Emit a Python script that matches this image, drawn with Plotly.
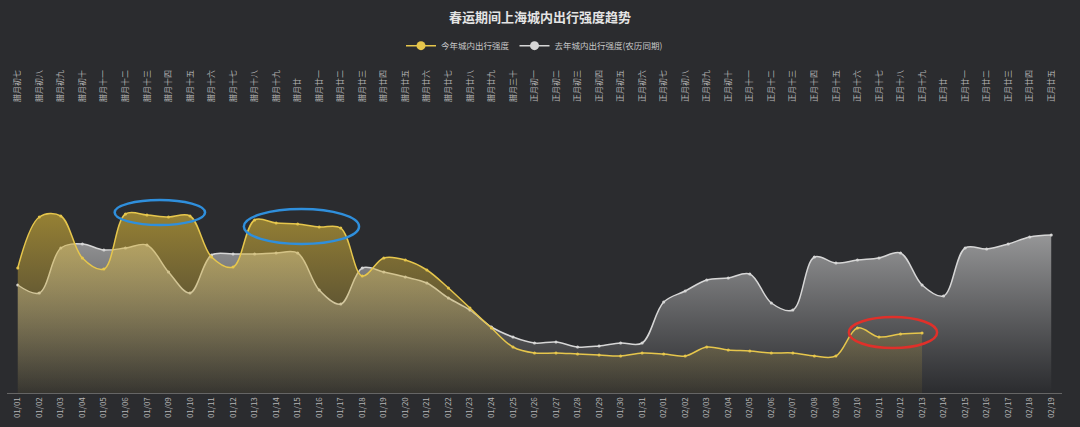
import plotly.graph_objects as go

# ---------------- data ----------------
dates = (["01/%02d" % d for d in [1, 2, 3, 4, 5, 6, 7, 9, 10, 11, 12, 13, 14, 15, 16, 17, 18, 19, 20,
                                  21, 22, 23, 24, 25, 26, 27, 28, 29, 30, 31]]
         + ["02/%02d" % d for d in range(1, 20)])

lunar = ["腊月初七", "腊月初八", "腊月初九", "腊月初十", "腊月十一", "腊月十二", "腊月十三", "腊月十四",
         "腊月十五", "腊月十六", "腊月十七", "腊月十八", "腊月十九", "腊月廿", "腊月廿一", "腊月廿二",
         "腊月廿三", "腊月廿四", "腊月廿五", "腊月廿六", "腊月廿七", "腊月廿八", "腊月廿九", "腊月三十",
         "正月初一", "正月初二", "正月初三", "正月初四", "正月初五", "正月初六", "正月初七", "正月初八",
         "正月初九", "正月初十", "正月十一", "正月十二", "正月十三", "正月十四", "正月十五", "正月十六",
         "正月十七", "正月十八", "正月十九", "正月廿", "正月廿一", "正月廿二", "正月廿三", "正月廿四",
         "正月廿五"]

this_year = [125, 176, 177, 135, 124, 179, 178, 176, 177, 136, 126, 173, 170, 169, 166, 165, 117, 135,
             133, 123, 105, 85, 65, 46, 40, 40, 39, 38, 37, 40, 39, 37, 46, 43, 42, 40, 40, 37, 37, 65,
             56, 59, 60]

last_year = [108, 100, 145, 149, 143, 145, 148, 121, 100, 138, 139, 139, 140, 140, 103, 89, 125, 121,
             116, 110, 95, 83, 66, 56, 50, 51, 46, 47, 50, 50, 91, 102, 113, 115, 119, 90, 83, 136, 130,
             133, 135, 140, 108, 97, 145, 144, 149, 156, 158]

name_this = "今年城内出行强度"
name_last = "去年城内出行强度(农历同期)"
title = "春运期间上海城内出行强度趋势"

# ---------------- style ----------------
BG = "#2b2c2f"
YELLOW = "#e6c64c"
GRAY = "#d6d6d6"
FONT = "Noto Sans CJK SC"

fig = go.Figure()

fig.add_trace(go.Scatter(
    x=dates, y=last_year, name=name_last, mode="lines+markers", showlegend=False,
    line=dict(color=GRAY, width=1.5, shape="spline", smoothing=1.0),
    marker=dict(color=GRAY, size=3),
    fill="tozeroy",
    fillgradient=dict(type="vertical",
                      colorscale=[[0, "rgba(200,200,200,0.0)"], [1, "rgba(215,215,215,0.62)"]],
                      start=0, stop=max(last_year)),
    hoverinfo="skip",
))

fig.add_trace(go.Scatter(
    x=dates[:len(this_year)], y=this_year, name=name_this, mode="lines+markers", showlegend=False,
    line=dict(color=YELLOW, width=1.5, shape="spline", smoothing=1.0),
    marker=dict(color=YELLOW, size=3),
    fill="tozeroy",
    fillgradient=dict(type="vertical",
                      colorscale=[[0, "rgba(190,160,60,0.08)"], [1, "rgba(215,180,55,0.62)"]],
                      start=0, stop=max(this_year)),
    hoverinfo="skip",
))

# legend entries (line + circle symbol, as in the original legend)
for nm, col in [(name_this, YELLOW), (name_last, GRAY)]:
    fig.add_trace(go.Scatter(
        x=[None], y=[None], name=nm, mode="lines+markers",
        line=dict(color=col, width=1.5), marker=dict(color=col, size=9),
        hoverinfo="skip",
    ))

# invisible trace to drive the top (lunar) axis
fig.add_trace(go.Scatter(
    x=lunar, y=[0] * len(lunar), xaxis="x2", mode="markers",
    marker=dict(opacity=0), showlegend=False, hoverinfo="skip",
))

# highlight ellipses
shapes = [
    dict(type="circle", xref="x", yref="y", x0=4.5, x1=8.7, y0=168, y1=193,
         line=dict(color="#2f8fdc", width=2.5)),
    dict(type="circle", xref="x", yref="y", x0=10.5, x1=15.85, y0=149, y1=184,
         line=dict(color="#2f8fdc", width=2.5)),
    dict(type="circle", xref="x", yref="y", x0=38.6, x1=42.7, y0=45, y1=76,
         line=dict(color="#e0302a", width=2.5)),
]

fig.update_layout(
    width=1080, height=427,
    paper_bgcolor=BG, plot_bgcolor=BG,
    margin=dict(l=7, r=18, t=103, b=34),
    font=dict(family=FONT, color="#bdbdbd", size=8),
    title=dict(text=title, x=0.5, xanchor="center", yref="container", y=0.958, yanchor="middle",
               font=dict(family=FONT, size=13, color="#e4e4e4", weight="bold")),
    legend=dict(orientation="h", x=0.5, xanchor="center", yref="container", y=0.893,
                yanchor="middle", font=dict(size=8.5, color="#c8c8c8"),
                bgcolor="rgba(0,0,0,0)", itemwidth=30),
    showlegend=True,
    xaxis=dict(type="category", range=[-0.5, len(dates) - 0.5], tickmode="array",
               tickvals=dates, ticktext=dates, tickangle=-90, showgrid=False, zeroline=False,
               showline=True, linecolor="#666666", linewidth=1, ticks="",
               tickfont=dict(size=8, color="#b5b5b5")),
    xaxis2=dict(type="category", overlaying="x", side="top", range=[-0.5, len(lunar) - 0.5],
                tickmode="array", tickvals=lunar, ticktext=lunar, tickangle=-90,
                showgrid=False, zeroline=False, showline=False, ticks="",
                tickfont=dict(size=8, color="#b5b5b5")),
    yaxis=dict(range=[0, 290], visible=False, showgrid=False, zeroline=False),
    shapes=shapes,
    hovermode=False,
)

fig.write_html("out.html", config={"displayModeBar": False},
               post_script="document.body.style.margin='0';document.body.style.background='%s';" % BG)
